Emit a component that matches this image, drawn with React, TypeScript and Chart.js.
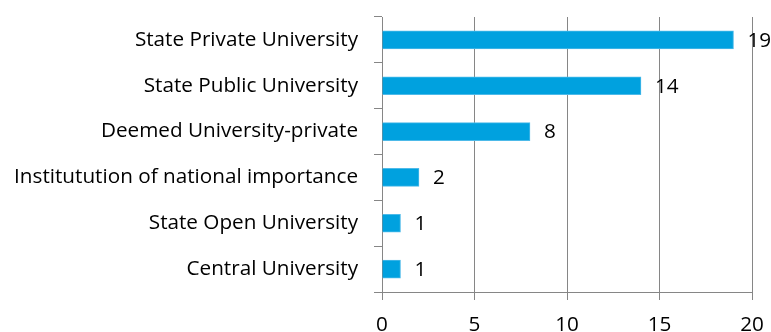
import React, { useEffect, useRef } from "react";
import { Chart, registerables } from "chart.js";

Chart.register(...registerables);

const categories: string[] = [
  "State Private University",
  "State Public University",
  "Deemed University-private",
  "Institutution of national importance",
  "State Open University",
  "Central University",
];
const values: number[] = [19, 14, 8, 2, 1, 1];
const xTicks: number[] = [0, 5, 10, 15, 20];

const FONT = "'Open Sans', sans-serif";
const FONT_SIZE = 20.7;
const GRID = "#868686";

const valueLabels = {
  id: "valueLabels",
  afterDatasetsDraw(chart: any) {
    const ctx = chart.ctx;
    const meta = chart.getDatasetMeta(0);
    ctx.save();
    ctx.font = `${FONT_SIZE}px ${FONT}`;
    ctx.fillStyle = "#000";
    ctx.textAlign = "left";
    ctx.textBaseline = "middle";
    meta.data.forEach((bar: any, i: number) => {
      ctx.fillText(String(values[i]), bar.x + 14, bar.y + 1);
    });
    ctx.restore();
  },
};

export default function App() {
  const ref = useRef<HTMLCanvasElement | null>(null);
  useEffect(() => {
    document.body.style.margin = "0";
    const canvas = ref.current!;
    const chart = new Chart(canvas, {
      type: "bar",
      data: {
        labels: categories,
        datasets: [
          {
            data: values,
            backgroundColor: "#00A1DF",
            borderColor: "#4DBAE9",
            borderWidth: 1,
            barThickness: 18,
          },
        ],
      },
      options: {
        indexAxis: "y",
        animation: false,
        responsive: false,
        devicePixelRatio: 1,
        layout: { padding: { top: 17, right: 19, left: 0, bottom: 0 } },
        plugins: {
          legend: { display: false },
          tooltip: { enabled: false },
        },
        scales: {
          x: {
            type: "linear",
            min: 0,
            max: 20,
            afterBuildTicks(scale: any) {
              scale.ticks = xTicks.map((v) => ({ value: v }));
            },
            afterFit(scale: any) {
              scale.height = 40;
              scale.paddingLeft = 0;
              scale.paddingRight = 0;
            },
            grid: {
              color: GRID,
              lineWidth: 1,
              tickLength: 8,
              drawTicks: true,
            },
            border: { color: GRID, width: 1 },
            ticks: {
              color: "#000",
              font: { family: FONT, size: FONT_SIZE },
              padding: 13,
              maxRotation: 0,
            },
          },
          y: {
            type: "category",
            afterFit(scale: any) {
              scale.width = 382;
              scale.paddingTop = 0;
              scale.paddingBottom = 0;
            },
            grid: {
              drawOnChartArea: false,
              drawTicks: true,
              tickLength: 8,
              color: GRID,
              offset: true,
            },
            border: { color: GRID, width: 1 },
            ticks: {
              color: "#000",
              font: { family: FONT, size: FONT_SIZE },
              padding: 16,
            },
          },
        },
      },
      plugins: [valueLabels],
    });
    return () => chart.destroy();
  }, []);
  return (
    <div style={{ width: 771, height: 332 }}>
      <canvas ref={ref} width={771} height={332} style={{ display: "block" }} />
    </div>
  );
}
